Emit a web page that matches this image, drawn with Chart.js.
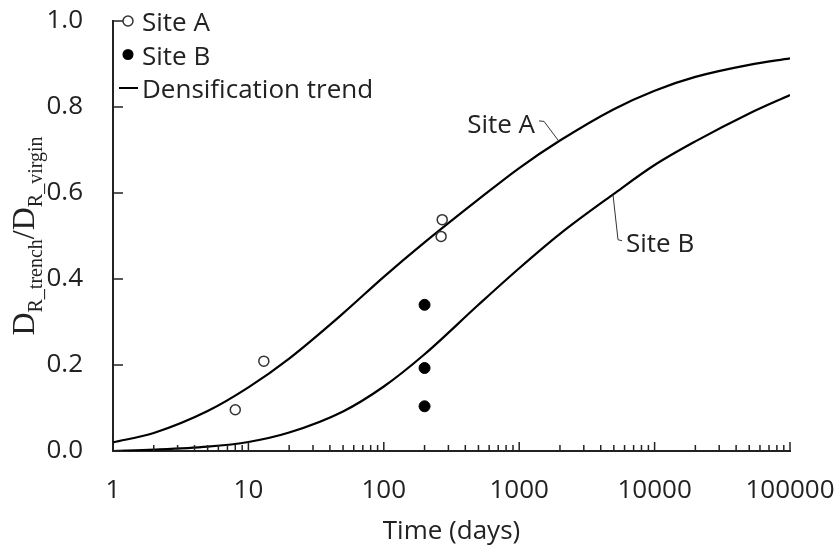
<!DOCTYPE html>
<html>
<head>
<meta charset="utf-8">
<script src="https://cdn.jsdelivr.net/npm/chart.js@4.4.1/dist/chart.umd.min.js"></script>
<style>
  html, body { margin: 0; padding: 0; background: #fff; }
</style>
</head>
<body>
<canvas id="densityChart" width="837" height="547"></canvas>
<script>
  // Values
  const trendTime = [1, 2, 5, 10, 20, 50, 100, 200, 500, 1000, 2000, 5000, 10000, 20000, 50000, 100000];
  const trendSiteA = [0.020, 0.042, 0.093, 0.148, 0.215, 0.320, 0.405, 0.485, 0.585, 0.658, 0.722, 0.795, 0.838, 0.870, 0.898, 0.913];
  const trendSiteB = [0.000, 0.003, 0.010, 0.021, 0.043, 0.092, 0.150, 0.225, 0.340, 0.425, 0.505, 0.598, 0.665, 0.720, 0.785, 0.828];

  const siteATime = [8, 13, 265, 270];
  const siteAValue = [0.096, 0.209, 0.499, 0.538];
  const siteBTime = [200, 200, 200];
  const siteBValue = [0.340, 0.193, 0.104];

  const xTickValues = [1, 10, 100, 1000, 10000, 100000];
  const yTickValues = [0, 0.2, 0.4, 0.6, 0.8, 1.0];

  // curve labels, anchored on the curves in data units
  const curveLabels = [
    { text: 'Site A', t: 1968, v: 0.720, side: 'left' },
    { text: 'Site B', t: 4930, v: 0.596, side: 'below' }
  ];

  const ink = '#222';
  const sans = '"Open Sans", Lato, sans-serif';
  const serif = '"Liberation Serif", "DejaVu Serif", serif';

  Chart.defaults.font.family = sans;
  Chart.defaults.font.size = 26;
  Chart.defaults.color = ink;

  const toPoints = (xs, ys) => xs.map((x, i) => ({ x: x, y: ys[i] }));

  function strokeLine(ctx, pts) {
    ctx.beginPath();
    ctx.moveTo(pts[0][0], pts[0][1]);
    for (let i = 1; i < pts.length; i++) ctx.lineTo(pts[i][0], pts[i][1]);
    ctx.stroke();
  }

  const decorations = {
    id: 'decorations',
    afterDraw(chart) {
      const ctx = chart.ctx;
      const xs = chart.scales.x, ys = chart.scales.y;
      const area = chart.chartArea;
      ctx.save();

      // inward tick marks
      ctx.strokeStyle = ink;
      ctx.lineWidth = 1.5;
      yTickValues.forEach(v => {
        const py = ys.getPixelForValue(v);
        strokeLine(ctx, [[area.left, py], [area.left + 10, py]]);
      });
      xTickValues.forEach((base, i) => {
        const px = xs.getPixelForValue(base);
        strokeLine(ctx, [[px, area.bottom], [px, area.bottom - 9]]);
        if (i < xTickValues.length - 1) {
          for (let m = 2; m <= 9; m++) {
            const mx = xs.getPixelForValue(base * m);
            strokeLine(ctx, [[mx, area.bottom], [mx, area.bottom - 6]]);
          }
        }
      });

      // y axis title with subscripts
      const parts = [
        { t: 'D', size: 32, dy: 0 },
        { t: 'R_trench', size: 20, dy: 8 },
        { t: '/D', size: 32, dy: 0 },
        { t: 'R_virgin', size: 20, dy: 8 }
      ];
      let total = 0;
      parts.forEach(p => {
        ctx.font = p.size + 'px ' + serif;
        p.w = ctx.measureText(p.t).width;
        total += p.w;
      });
      ctx.translate(34, (area.top + area.bottom) / 2);
      ctx.rotate(-Math.PI / 2);
      ctx.fillStyle = ink;
      ctx.textBaseline = 'alphabetic';
      ctx.textAlign = 'left';
      let cx = -total / 2;
      parts.forEach(p => {
        ctx.font = p.size + 'px ' + serif;
        ctx.fillText(p.t, cx, p.dy);
        cx += p.w;
      });
      ctx.setTransform(1, 0, 0, 1, 0, 0);

      // legend, top left inside the plot
      const lx = area.left + 15;
      const tx = area.left + 29;
      ctx.font = '26px ' + sans;
      ctx.textAlign = 'left';
      ctx.textBaseline = 'alphabetic';
      ctx.fillStyle = ink;

      let ry = area.top;
      ctx.beginPath();
      ctx.arc(lx, ry, 5, 0, Math.PI * 2);
      ctx.fillStyle = '#fff';
      ctx.fill();
      ctx.lineWidth = 1.5;
      ctx.strokeStyle = '#333';
      ctx.stroke();
      ctx.fillStyle = ink;
      ctx.fillText('Site A', tx, ry + 10);

      ry = area.top + 33.5;
      ctx.beginPath();
      ctx.arc(lx, ry, 5.5, 0, Math.PI * 2);
      ctx.fillStyle = '#000';
      ctx.fill();
      ctx.fillStyle = ink;
      ctx.fillText('Site B', tx, ry + 10);

      ry = area.top + 67;
      ctx.strokeStyle = '#000';
      ctx.lineWidth = 2;
      strokeLine(ctx, [[area.left + 6, ry], [area.left + 25, ry]]);
      ctx.fillText('Densification trend', tx, ry + 10);

      // curve labels with leader lines
      ctx.lineWidth = 1;
      ctx.strokeStyle = '#333';
      curveLabels.forEach(l => {
        const ax = xs.getPixelForValue(l.t);
        const ay = ys.getPixelForValue(l.v);
        if (l.side === 'left') {
          strokeLine(ctx, [[ax, ay], [ax - 15, ay - 20], [ax - 20, ay - 20.5]]);
          ctx.textAlign = 'right';
          ctx.fillText(l.text, ax - 24, ay - 8);
        } else {
          strokeLine(ctx, [[ax, ay], [ax + 5, ay + 45], [ax + 9, ay + 46]]);
          ctx.textAlign = 'left';
          ctx.fillText(l.text, ax + 13, ay + 57);
        }
      });
      ctx.restore();
    }
  };

  const config = {
    type: 'scatter',
    data: {
      datasets: [
        {
          label: 'Site A',
          data: toPoints(siteATime, siteAValue),
          pointStyle: 'circle',
          pointRadius: 5,
          pointBorderWidth: 1.5,
          pointBorderColor: '#333',
          pointBackgroundColor: '#fff'
        },
        {
          label: 'Site B',
          data: toPoints(siteBTime, siteBValue),
          pointStyle: 'circle',
          pointRadius: 5.5,
          pointBorderWidth: 1,
          pointBorderColor: '#000',
          pointBackgroundColor: '#000'
        },
        {
          label: 'Densification trend A',
          data: toPoints(trendTime, trendSiteA),
          showLine: true,
          borderColor: '#000',
          borderWidth: 2.2,
          pointRadius: 0,
          cubicInterpolationMode: 'monotone',
          fill: false
        },
        {
          label: 'Densification trend B',
          data: toPoints(trendTime, trendSiteB),
          showLine: true,
          borderColor: '#000',
          borderWidth: 2.2,
          pointRadius: 0,
          cubicInterpolationMode: 'monotone',
          fill: false
        }
      ]
    },
    options: {
      responsive: false,
      animation: false,
      events: [],
      layout: { padding: { top: 21, right: 47, bottom: 0, left: 0 } },
      plugins: {
        legend: { display: false },
        tooltip: { enabled: false }
      },
      scales: {
        x: {
          type: 'logarithmic',
          min: 1,
          max: 100000,
          afterBuildTicks: s => { s.ticks = xTickValues.map(v => ({ value: v, major: true })); },
          afterFit: s => { s.height = 96; s.paddingLeft = 0; s.paddingRight = 0; },
          grid: { display: false, drawTicks: false },
          border: { color: ink, width: 2 },
          ticks: {
            padding: 24,
            autoSkip: false,
            maxRotation: 0,
            callback: v => String(v)
          },
          title: { display: true, text: 'Time (days)', padding: 0 }
        },
        y: {
          min: 0,
          max: 1,
          afterBuildTicks: s => { s.ticks = yTickValues.map(v => ({ value: v })); },
          afterFit: s => { s.width = 113; s.paddingTop = 0; s.paddingBottom = 0; },
          grid: { display: false, drawTicks: false },
          border: { color: ink, width: 2 },
          ticks: {
            padding: 30,
            callback: v => v.toFixed(1)
          }
        }
      }
    },
    plugins: [decorations]
  };

  new Chart(document.getElementById('densityChart').getContext('2d'), config);
</script>
</body>
</html>
